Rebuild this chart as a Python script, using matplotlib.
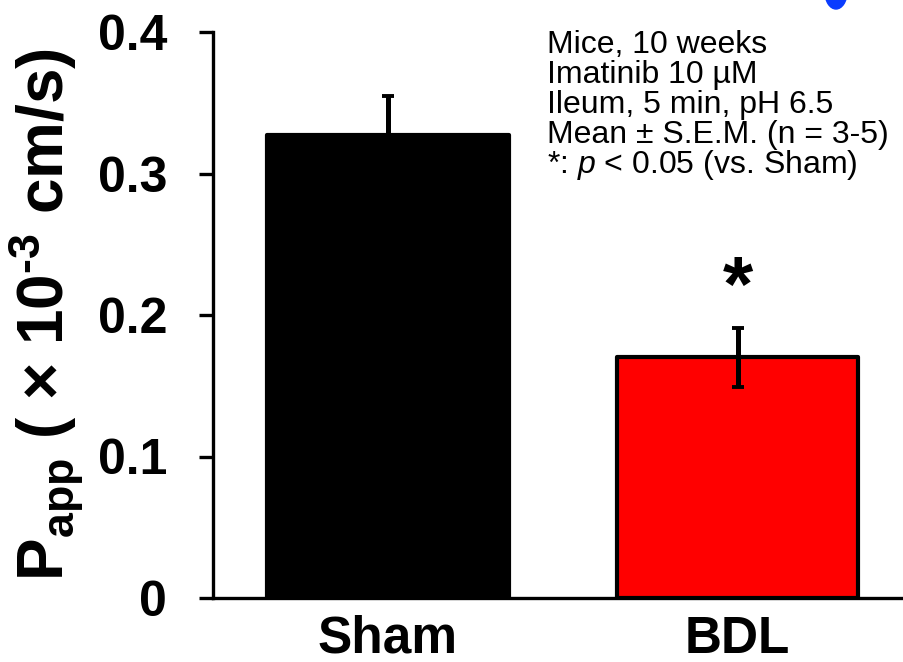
"""
Apparent permeability of imatinib in mouse ileum: Sham vs BDL bar chart.
"""

import matplotlib as mpl
mpl.use("Agg")
import matplotlib.pyplot as plt
from matplotlib.patches import Ellipse

# data
groups = ["Sham", "BDL"]
papp_mean = [0.327, 0.170]
papp_sem = [0.028, 0.021]
bar_colors = ["#000000", "#ff0000"]
err_lower = [False, True]  # Sham shows only the upper whisker
sig_marks = ["", "*"]
y_ticks = [0, 0.1, 0.2, 0.3, 0.4]
y_ticklabels = ["0", "0.1", "0.2", "0.3", "0.4"]
notes = [
    "Mice, 10 weeks",
    "Imatinib 10 \u00b5M",
    "Ileum, 5 min, pH 6.5",
    "Mean \u00b1 S.E.M. (n = 3-5)",
    "*: $p$ < 0.05 (vs. Sham)",
]

INK = "#000000"
W, H = 904, 662

plt.rcParams.update({
    "font.family": ["Liberation Sans", "DejaVu Sans"],
    "mathtext.fontset": "custom",
    "mathtext.rm": "Liberation Sans:bold",
    "mathtext.bf": "Liberation Sans:bold",
    "mathtext.it": "Liberation Sans:italic",
})

fig = plt.figure(figsize=(W / 100, H / 100), dpi=100)
ax = fig.add_axes([213 / W, 1 - 598 / H, 699.5 / W, 566 / H])

x = list(range(len(groups)))
ax.bar(x, papp_mean, width=0.69, color=bar_colors, edgecolor=INK,
       linewidth=3.0, joinstyle="round", zorder=2)
for xi, m, s, low in zip(x, papp_mean, papp_sem, err_lower):
    yerr = [[s if low else 0], [s]]
    ax.errorbar(xi, m, yerr=yerr, fmt="none", ecolor=INK, elinewidth=3.6,
                capsize=4.5, capthick=2.8, zorder=3)
for xi, m, s, mark in zip(x, papp_mean, papp_sem, sig_marks):
    if mark:
        ax.text(xi, m + s + 0.012, mark, ha="center", va="baseline",
                fontsize=56, fontweight="bold", color=INK)

ax.set_xlim(-0.5, 1.5)
ax.set_ylim(0, 0.4)
ax.set_yticks(y_ticks)
ax.set_yticklabels(y_ticklabels)
ax.set_xticks(x)
ax.set_xticklabels(groups)

for side in ("top", "right"):
    ax.spines[side].set_visible(False)
for side in ("left", "bottom"):
    ax.spines[side].set_linewidth(2.4)
    ax.spines[side].set_capstyle("projecting")
ax.tick_params(axis="y", direction="out", length=10, width=2.4, pad=23,
               labelsize=36)
ax.tick_params(axis="x", length=0, pad=12, labelsize=37)
for lab in ax.get_xticklabels() + ax.get_yticklabels():
    lab.set_fontweight("bold")

ax.set_ylabel("P$_{\\mathrm{app}}$ ( \u00d7 10$^{\\mathrm{\u20103}}$ cm/s)",
              fontsize=46, fontweight="bold")
ax.yaxis.set_label_coords(-0.182, 0.5)

# conditions box, top right
for i, line in enumerate(notes):
    fig.text(547 / W, 1 - (53 + 30 * i) / H, line, fontsize=23,
             ha="left", va="baseline", color=INK)

# clipped blue fragment at the top edge
fig.patches.append(Ellipse((836 / W, 1 + 8 / H), 22 / W, 34 / H,
                           color="#0a3cff", transform=fig.transFigure))

fig.savefig("out.png", dpi=100, facecolor="white")
